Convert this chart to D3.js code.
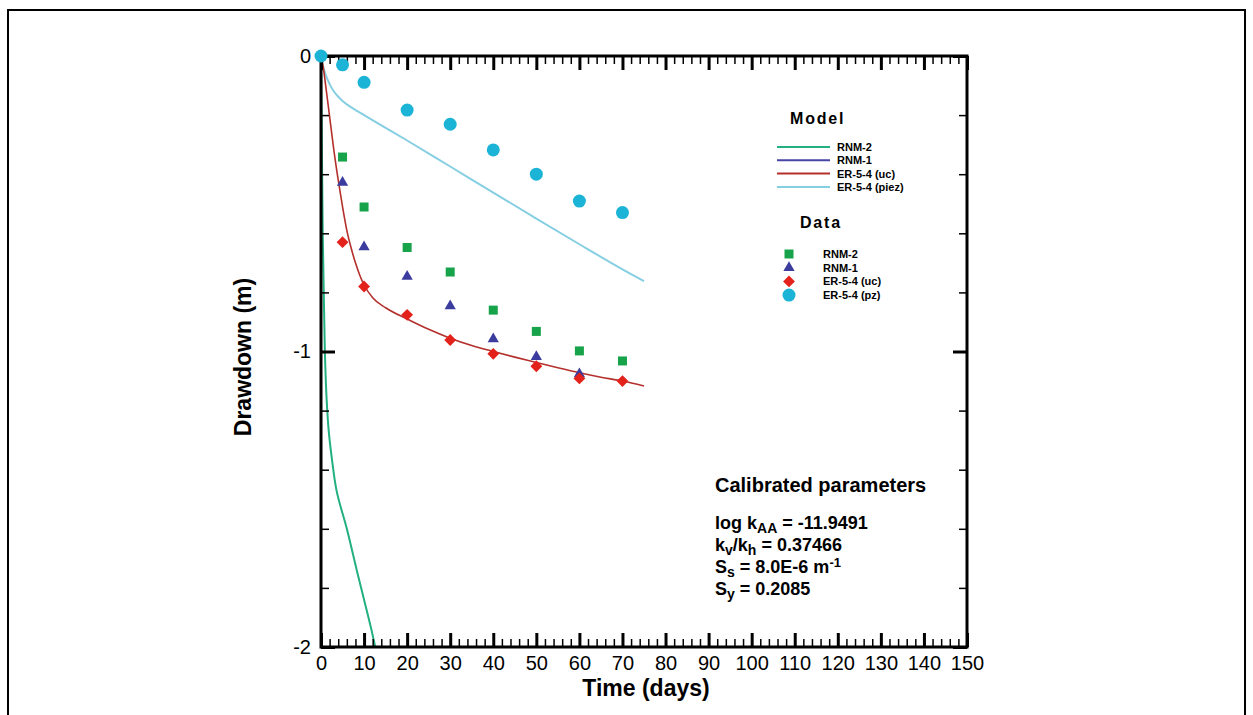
<!DOCTYPE html>
<html>
<head>
<meta charset="utf-8">
<script src="https://cdn.jsdelivr.net/npm/d3@7"></script>
<style>
  html, body { margin: 0; padding: 0; background: #fff; }
  svg { display: block; font-family: "Liberation Sans", Arial, sans-serif; }
</style>
</head>
<body>
<svg id="chart" width="1253" height="715"></svg>
<script>
// ---- observed data (time in days, drawdown in m) ----
const dataTimes = [5, 10, 20, 30, 40, 50, 60, 70];
const rnm2Obs   = [-0.342, -0.511, -0.648, -0.731, -0.860, -0.932, -0.998, -1.032];
const rnm1Times = [5, 10, 20, 30, 40, 50, 60];
const rnm1Obs   = [-0.428, -0.646, -0.746, -0.846, -0.958, -1.018, -1.076];
const ucObs     = [-0.630, -0.780, -0.876, -0.961, -1.008, -1.050, -1.091, -1.100];
const pzTimes   = [0, 5, 10, 20, 30, 40, 50, 60, 70];
const pzObs     = [0, -0.030, -0.089, -0.183, -0.231, -0.318, -0.400, -0.491, -0.530];

// ---- model curves ----
const ucModelT  = [0, 0.5, 1, 2, 3, 4, 5, 6, 7, 8, 9, 10, 12, 15, 20, 25, 30, 35, 40, 45, 50, 55, 60, 65, 70, 75];
const ucModelD  = [0, -0.036, -0.09, -0.205, -0.32, -0.42, -0.51, -0.59, -0.65, -0.70, -0.742, -0.775, -0.818, -0.852, -0.89, -0.925, -0.955, -0.98, -1.0, -1.019, -1.037, -1.055, -1.072, -1.087, -1.10, -1.117];
const pzModelT  = [0, 0.5, 1, 2, 3, 4, 5, 7.5, 10, 15, 20, 30, 40, 50, 60, 70, 75];
const pzModelD  = [0, -0.035, -0.06, -0.095, -0.12, -0.138, -0.152, -0.178, -0.200, -0.243, -0.286, -0.374, -0.462, -0.55, -0.637, -0.722, -0.762];
const rnm2ModelT = [0, 0.2, 0.4, 0.7, 1.0, 1.3, 1.8, 2.5, 3.6, 6, 8.3, 10, 12, 12.6];
const rnm2ModelD = [0, -0.3, -0.6, -0.85, -1.05, -1.16, -1.27, -1.36, -1.47, -1.60, -1.74, -1.84, -1.96, -2.0];
const rnm1ModelT = [0, 0.0, 0.02];
const rnm1ModelD = [0, -1.0, -2.0];

// ---- axes ----
const xMajor = d3.range(0, 151, 10);
const xMinor = d3.range(0, 151, 2);
const yMajor = [0, -1, -2];
const yMinor = d3.range(0, -2.001, -0.2);

const colors = {
  rnm2Line: "#22b07e", rnm1Line: "#4646a6", ucLine: "#b4302c", pzLine: "#86cfe2",
  rnm2Pt: "#17a34a", rnm1Pt: "#3c3c9e", ucPt: "#e4221c", pzPt: "#1cb4d6"
};

const svg = d3.select("#chart");
const x = d3.scaleLinear().domain([0, 150]).range([321, 967]);
const y = d3.scaleLinear().domain([0, -2]).range([56, 647]);

// outer frame
svg.append("rect").attr("x", 8).attr("y", 10).attr("width", 1237).attr("height", 720)
  .attr("fill", "none").attr("stroke", "#000").attr("stroke-width", 2);

// clip to plot area
svg.append("defs").append("clipPath").attr("id", "plotClip")
  .append("rect").attr("x", x(0)).attr("y", y(0) - 8).attr("width", x(150) - x(0)).attr("height", y(-2) - y(0) + 8);

const lines = svg.append("g").attr("clip-path", "url(#plotClip)");
const lineGen = d3.line().x(d => x(d[0])).y(d => y(d[1])).curve(d3.curveMonotoneX);
const lineGenY = d3.line().x(d => x(d[0])).y(d => y(d[1])).curve(d3.curveMonotoneY);

function zip(a, b) { return a.map((v, i) => [v, b[i]]); }

lines.append("path").datum(zip(rnm1ModelT, rnm1ModelD)).attr("d", d3.line().x(d => x(d[0])).y(d => y(d[1])))
  .attr("fill", "none").attr("stroke", colors.rnm1Line).attr("stroke-width", 1.5);
lines.append("path").datum(zip(rnm2ModelT, rnm2ModelD)).attr("d", lineGenY)
  .attr("fill", "none").attr("stroke", colors.rnm2Line).attr("stroke-width", 2);
lines.append("path").datum(zip(pzModelT, pzModelD)).attr("d", lineGen)
  .attr("fill", "none").attr("stroke", colors.pzLine).attr("stroke-width", 2);
lines.append("path").datum(zip(ucModelT, ucModelD)).attr("d", lineGen)
  .attr("fill", "none").attr("stroke", colors.ucLine).attr("stroke-width", 1.6);

// axes: major/minor ticks point inward on all four sides
function styleAxis(g, w) {
  g.select(".domain").remove();
  g.selectAll(".tick line").attr("stroke", "#000").attr("stroke-width", w);
}
const noLab = () => "";
const plainNum = d => String(d);
svg.append("g").attr("transform", `translate(0,${y(-2)})`)
  .call(d3.axisBottom(x).tickValues(xMinor).tickSize(-8).tickFormat(noLab)).call(g => styleAxis(g, 1.5));
svg.append("g").attr("transform", `translate(0,${y(-2)})`)
  .call(d3.axisBottom(x).tickValues(xMajor).tickSize(-14).tickFormat(plainNum))
  .call(g => { styleAxis(g, 3); g.selectAll("text").attr("font-size", 20).attr("fill", "#000").attr("dy", "0.32em").attr("y", 17); });
svg.append("g").attr("transform", `translate(0,${y(0)})`)
  .call(d3.axisTop(x).tickValues(xMinor).tickSize(-8).tickFormat(noLab)).call(g => styleAxis(g, 1.5));
svg.append("g").attr("transform", `translate(0,${y(0)})`)
  .call(d3.axisTop(x).tickValues(xMajor).tickSize(-14).tickFormat(noLab)).call(g => styleAxis(g, 3));

svg.append("g").attr("transform", `translate(${x(0)},0)`)
  .call(d3.axisLeft(y).tickValues(yMinor).tickSize(-8).tickFormat(noLab)).call(g => styleAxis(g, 1.5));
svg.append("g").attr("transform", `translate(${x(0)},0)`)
  .call(d3.axisLeft(y).tickValues(yMajor).tickSize(-14).tickPadding(10).tickFormat(plainNum))
  .call(g => { styleAxis(g, 3); g.selectAll("text").attr("font-size", 20).attr("fill", "#000"); });
svg.append("g").attr("transform", `translate(${x(150)},0)`)
  .call(d3.axisRight(y).tickValues(yMinor).tickSize(-8).tickFormat(noLab)).call(g => styleAxis(g, 1.5));
svg.append("g").attr("transform", `translate(${x(150)},0)`)
  .call(d3.axisRight(y).tickValues(yMajor).tickSize(-14).tickFormat(noLab)).call(g => styleAxis(g, 3));

// plot frame
svg.append("rect").attr("x", x(0)).attr("y", y(0)).attr("width", x(150) - x(0)).attr("height", y(-2) - y(0))
  .attr("fill", "none").attr("stroke", "#000").attr("stroke-width", 3);

// observed points
const pts = svg.append("g");
pts.selectAll(".pz").data(zip(pzTimes, pzObs)).join("circle")
  .attr("cx", d => x(d[0])).attr("cy", d => y(d[1])).attr("r", 6.5).attr("fill", colors.pzPt);
pts.selectAll(".sq").data(zip(dataTimes, rnm2Obs)).join("rect")
  .attr("x", d => x(d[0]) - 4.5).attr("y", d => y(d[1]) - 4.5).attr("width", 9).attr("height", 9).attr("fill", colors.rnm2Pt);
const tri = d3.symbol().type(d3.symbolTriangle).size(55);
pts.selectAll(".tri").data(zip(rnm1Times, rnm1Obs)).join("path")
  .attr("transform", d => `translate(${x(d[0])},${y(d[1])})`).attr("d", tri).attr("fill", colors.rnm1Pt);
pts.selectAll(".dia").data(zip(dataTimes, ucObs)).join("path")
  .attr("transform", d => `translate(${x(d[0])},${y(d[1])}) rotate(45)`)
  .attr("d", d3.symbol().type(d3.symbolSquare).size(70)).attr("fill", colors.ucPt);

// axis titles
svg.append("text").attr("x", 646).attr("y", 696).attr("text-anchor", "middle")
  .attr("font-size", 23).attr("font-weight", "bold").text("Time (days)");
svg.append("text").attr("transform", "translate(251,357) rotate(-90)").attr("text-anchor", "middle")
  .attr("font-size", 23).attr("font-weight", "bold").text("Drawdown (m)");

// legend
const modelNames = ["RNM-2", "RNM-1", "ER-5-4 (uc)", "ER-5-4 (piez)"];
const modelColors = [colors.rnm2Line, colors.rnm1Line, colors.ucLine, colors.pzLine];
const dataNames = ["RNM-2", "RNM-1", "ER-5-4 (uc)", "ER-5-4 (pz)"];
const leg = svg.append("g");
leg.append("text").attr("x", 790).attr("y", 124).attr("font-size", 16).attr("font-weight", "bold")
  .attr("letter-spacing", 1.8).text("Model");
modelNames.forEach((n, i) => {
  const yy = 147 + i * 13.3;
  leg.append("line").attr("x1", 777).attr("x2", 830).attr("y1", yy).attr("y2", yy)
    .attr("stroke", modelColors[i]).attr("stroke-width", 2);
  leg.append("text").attr("x", 837).attr("y", yy + 4).attr("font-size", 11).attr("font-weight", "bold").text(n);
});
leg.append("text").attr("x", 800).attr("y", 228).attr("font-size", 16).attr("font-weight", "bold")
  .attr("letter-spacing", 1.8).text("Data");
dataNames.forEach((n, i) => {
  const yy = 254 + i * 13.7;
  const cx = 789;
  if (i === 0) leg.append("rect").attr("x", cx - 4.5).attr("y", yy - 4.5).attr("width", 9).attr("height", 9).attr("fill", colors.rnm2Pt);
  if (i === 1) leg.append("path").attr("transform", `translate(${cx},${yy})`).attr("d", tri).attr("fill", colors.rnm1Pt);
  if (i === 2) leg.append("path").attr("transform", `translate(${cx},${yy}) rotate(45)`).attr("d", d3.symbol().type(d3.symbolSquare).size(70)).attr("fill", colors.ucPt);
  if (i === 3) leg.append("circle").attr("cx", cx).attr("cy", yy).attr("r", 6.5).attr("fill", colors.pzPt);
  leg.append("text").attr("x", 823).attr("y", yy + 4).attr("font-size", 11).attr("font-weight", "bold").text(n);
});

// calibrated parameter block
const par = svg.append("g").attr("font-weight", "bold").attr("font-size", 18);
par.append("text").attr("x", 715).attr("y", 492).attr("font-size", 20).text("Calibrated parameters");
function paramLine(yy, parts) {
  const t = par.append("text").attr("x", 715).attr("y", yy);
  parts.forEach(p => {
    const s = t.append("tspan").text(p.t);
    if (p.sub) s.attr("font-size", 14).attr("baseline-shift", "-30%");
    if (p.sup) s.attr("font-size", 13).attr("baseline-shift", "45%");
  });
}
paramLine(529, [{t: "log k"}, {t: "AA", sub: true}, {t: " = -11.9491"}]);
paramLine(551, [{t: "k"}, {t: "v", sub: true}, {t: "/k"}, {t: "h", sub: true}, {t: " = 0.37466"}]);
paramLine(573, [{t: "S"}, {t: "s", sub: true}, {t: " = 8.0E-6 m"}, {t: "-1", sup: true}]);
paramLine(595, [{t: "S"}, {t: "y", sub: true}, {t: " = 0.2085"}]);
</script>
</body>
</html>
